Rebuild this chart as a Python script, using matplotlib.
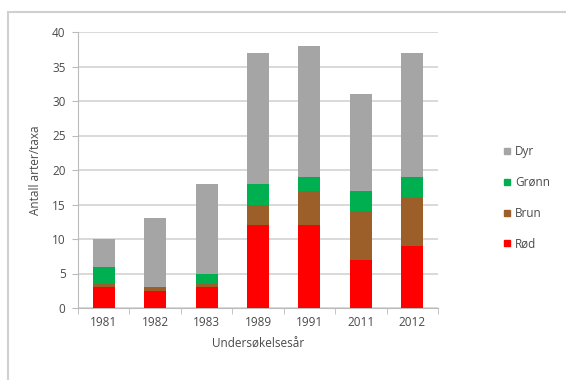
import matplotlib
matplotlib.use("Agg")
import matplotlib.pyplot as plt
from matplotlib.patches import Rectangle
from matplotlib.lines import Line2D
import numpy as np

years = ["1981", "1982", "1983", "1989", "1991", "2011", "2012"]
rod = [3, 2.5, 3, 12, 12, 7, 9]
brun = [0.5, 0.5, 0.5, 3, 5, 7, 7]
gronn = [2.5, 0, 1.5, 3, 2, 3, 3]
dyr = [4, 10, 13, 19, 19, 14, 18]

series = [("Rød", rod, "#FF0000"),
          ("Brun", brun, "#9C5F2A"),
          ("Grønn", gronn, "#00B050"),
          ("Dyr", dyr, "#A5A5A5")]

plt.rcParams["font.family"] = ["Open Sans", "DejaVu Sans"]
text_col = "#4A4A4A"
fs = 8.5

fig = plt.figure(figsize=(5.66, 3.8), dpi=100)
W, H = 566, 380

# outer chart-area border
fig.patches.append(Rectangle((8 / W, -0.1), 1.2, 1 - 12 / H + 0.1,
                             transform=fig.transFigure, fill=False,
                             edgecolor="#D0D0D0", linewidth=1.5))

ax = fig.add_axes([78 / W, 1 - 308 / H, 360 / W, 276 / H])
x = np.arange(len(years))
bottom = np.zeros(len(years))
handles = []
for name, vals, col in series:
    ax.bar(x, vals, width=0.43, bottom=bottom, color=col, zorder=3)
    bottom += np.array(vals)
    handles.append(Line2D([], [], marker="s", linestyle="none",
                          markersize=5, color=col, label=name))

ax.set_xlim(-0.5, len(years) - 0.5)
ax.set_ylim(0, 40)
ax.set_yticks(range(0, 41, 5))
ax.set_xticks(x)
ax.set_xticklabels(years)
ax.set_xticks(np.arange(-0.5, len(years)), minor=True)
ax.tick_params(axis="x", which="major", length=0, pad=6,
               labelsize=fs, labelcolor=text_col)
ax.tick_params(axis="x", which="minor", length=4, color="#BBBBBB")
ax.tick_params(axis="y", length=4, color="#BBBBBB", labelsize=fs,
               labelcolor=text_col, pad=5)
ax.grid(axis="y", color="#CFCFCF", linewidth=1.1, zorder=0)
for s in ["top", "right"]:
    ax.spines[s].set_visible(False)
ax.spines["left"].set_color("#BBBBBB")
ax.spines["bottom"].set_color("#BBBBBB")

ax.set_ylabel("Antall arter/taxa", fontsize=fs, color=text_col, labelpad=7)
ax.set_xlabel("Undersøkelsesår", fontsize=fs, color=text_col, labelpad=6)

fig.legend(handles=handles[::-1], loc="center left",
           bbox_to_anchor=(490 / W, 1 - 198 / H), frameon=False,
           fontsize=fs, labelcolor=text_col, labelspacing=1.5,
           handletextpad=0.2, handlelength=1.0)

fig.savefig("out.png", dpi=100)
